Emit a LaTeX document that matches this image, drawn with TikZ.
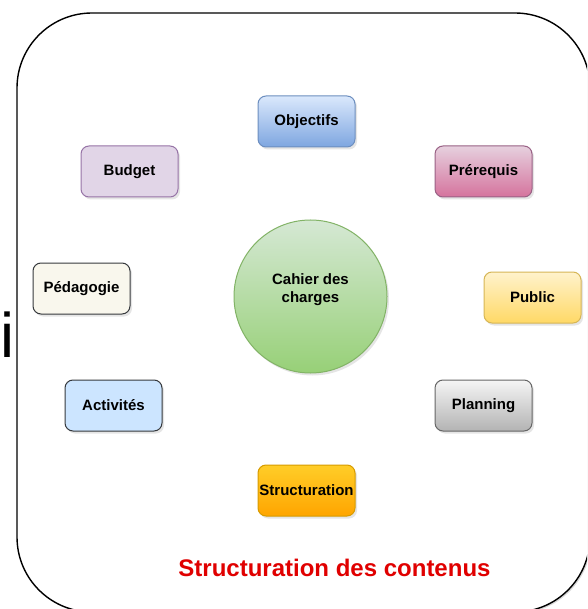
\documentclass[tikz,border=0pt]{standalone}
\usepackage{fontspec}
\setmainfont{Liberation Sans}
\usepackage{tikz}
\usetikzlibrary{shadows}
\definecolor{objtop}{HTML}{DAE8FC}
\definecolor{objbot}{HTML}{7EA6E0}
\definecolor{objline}{HTML}{6C8EBF}
\definecolor{budfill}{HTML}{E1D5E7}
\definecolor{budline}{HTML}{9673A6}
\definecolor{pretop}{HTML}{E6D0DE}
\definecolor{prebot}{HTML}{D5739D}
\definecolor{preline}{HTML}{996185}
\definecolor{pubtop}{HTML}{FFF2CC}
\definecolor{pubbot}{HTML}{FFD966}
\definecolor{publine}{HTML}{D6B656}
\definecolor{pedfill}{HTML}{F9F7ED}
\definecolor{actfill}{HTML}{CCE5FF}
\definecolor{darkline}{HTML}{36393D}
\definecolor{plantop}{HTML}{F5F5F5}
\definecolor{planbot}{HTML}{B3B3B3}
\definecolor{planline}{HTML}{666666}
\definecolor{strtop}{HTML}{FFCD28}
\definecolor{strbot}{HTML}{FFA500}
\definecolor{strline}{HTML}{D79B00}
\definecolor{hubtop}{HTML}{D5E8D4}
\definecolor{hubbot}{HTML}{97D077}
\definecolor{hubline}{HTML}{82B366}
\definecolor{titlered}{HTML}{E00000}
\tikzset{%
    topic/.style={rectangle, rounded corners=8pt, line width=1pt,
        minimum width=97pt, minimum height=51pt, inner sep=0pt,
        font=\bfseries\fontsize{15}{17}\selectfont,
        drop shadow={shadow xshift=2pt, shadow yshift=-2.5pt, opacity=0.2}},
    hub/.style={circle, minimum size=153pt, line width=1pt, draw=hubline,
        top color=hubtop, bottom color=hubbot,
        drop shadow={shadow xshift=2pt, shadow yshift=-2.5pt, opacity=0.2}}
}

\begin{document}
\begin{tikzpicture}[x=1pt, y=-1pt]
    \clip (0,0) rectangle (587,609);
    \fill[white] (0,0) rectangle (587,609);

    % frame
    \draw[line width=1.4pt, rounded corners=75pt, fill=white,
        drop shadow={shadow xshift=1.5pt, shadow yshift=-1.5pt, opacity=0.3}]
        (17,13) rectangle (590,612);
    \node[anchor=base west, inner sep=0pt, font=\fontsize{63}{70}\selectfont] (cut) at (0,357) {i};

    % centre
    \node[hub] (cahier) at (310.5,296.5) {};
    \node[align=center, inner sep=0pt, font=\bfseries\fontsize{15}{18}\selectfont] (cahierlbl) at (310.5,290) {Cahier des\\charges};

    % topics
    \node[topic, draw=objline, top color=objtop, bottom color=objbot] (objectifs) at (306.5,121.5) {Objectifs};
    \node[topic, draw=budline, fill=budfill] (budget) at (129.5,171.5) {Budget};
    \node[topic, draw=preline, top color=pretop, bottom color=prebot] (prerequis) at (483.5,171.5) {Prérequis};
    \node[topic, draw=darkline, fill=pedfill] (pedagogie) at (81.5,288.5) {Pédagogie};
    \node[topic, draw=publine, top color=pubtop, bottom color=pubbot] (public) at (532.5,297.5) {Public};
    \node[topic, draw=darkline, fill=actfill] (activites) at (113.5,405.5) {Activités};
    \node[topic, draw=planline, top color=plantop, bottom color=planbot] (planning) at (483.5,405.5) {Planning};
    \node[topic, draw=strline, top color=strtop, bottom color=strbot] (structuration) at (306.5,490.5) {Structuration};

    \node[text=titlered, font=\bfseries\fontsize{24}{28}\selectfont] (titre) at (334.5,568) {Structuration des contenus};
\end{tikzpicture}
\end{document}
